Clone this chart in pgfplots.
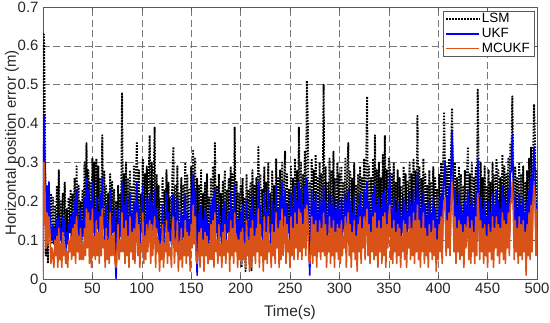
\documentclass[border=0pt]{standalone}
\usepackage{fontspec}
\setmainfont{Liberation Sans}
\usepackage{pgfplots}
\usepackage{pgfplotstable}
\pgfplotsset{compat=1.18}
\definecolor{lsm}{RGB}{0,0,0}
\definecolor{ukf}{RGB}{0,0,255}
\definecolor{mcukf}{RGB}{217,83,25}
\definecolor{gridc}{RGB}{120,120,120}
\definecolor{axc}{RGB}{90,90,90}
\pgfplotstableread[row sep=\\]{
l u m\\
2 5 0\\ 63 42 30\\ 38 30 22\\ 6 14 8\\ 22 24 17\\ 4 12 9\\ 20 25 16\\ 12 17 12\\ 22 12 4\\ 9 10 8\\
21 14 6\\ 11 9 3\\ 19 13 10\\ 8 11 6\\ 24 15 11\\ 10 8 3\\ 28 16 13\\ 11 10 5\\ 20 13 9\\ 9 9 3\\
22 16 12\\ 11 12 6\\ 25 15 9\\ 8 7 4\\ 18 12 7\\ 10 9 3\\ 21 14 10\\ 12 13 7\\ 23 16 11\\ 9 10 5\\
22 17 13\\ 14 11 6\\ 26 20 14\\ 12 9 4\\ 29 23 16\\ 13 12 7\\ 24 15 11\\ 10 8 5\\ 20 18 13\\ 8 10 5\\
23 15 9\\ 12 11 5\\ 30 21 13\\ 14 10 6\\ 35 26 18\\ 15 14 8\\ 28 23 17\\ 11 9 4\\ 25 20 15\\ 10 9 3\\
31 25 18\\ 13 12 6\\ 30 18 11\\ 9 8 5\\ 31 21 15\\ 14 13 6\\ 29 17 12\\ 7 9 4\\ 26 22 16\\ 11 10 6\\
37 26 18\\ 15 13 8\\ 28 16 10\\ 10 8 3\\ 24 19 13\\ 6 11 5\\ 22 14 10\\ 13 10 4\\ 27 23 17\\ 8 9 6\\
25 16 11\\ 12 12 6\\ 23 18 12\\ 9 7 4\\ 20 0 3\\ 11 12 8\\ 24 18 14\\ 6 10 5\\ 22 15 10\\ 13 11 7\\
48 25 17\\ 14 12 7\\ 27 19 13\\ 10 9 4\\ 30 21 15\\ 12 11 6\\ 26 16 11\\ 7 8 3\\ 28 22 16\\ 11 12 7\\
24 17 12\\ 9 10 5\\ 29 20 13\\ 12 9 4\\ 26 18 12\\ 35 25 17\\ 10 11 6\\ 28 19 14\\ 6 9 3\\ 22 14 9\\
13 12 7\\ 31 24 17\\ 11 10 4\\ 27 15 11\\ 8 9 5\\ 29 21 14\\ 14 12 7\\ 26 17 12\\ 37 22 15\\ 10 9 4\\
30 20 14\\ 12 11 6\\ 25 16 12\\ 39 23 16\\ 9 8 3\\ 27 18 13\\ 13 12 7\\ 24 15 10\\ 7 7 2\\ 21 13 9\\
11 10 5\\ 26 19 14\\ 9 8 3\\ 23 14 9\\ 14 12 7\\ 28 22 15\\ 8 9 4\\ 25 17 12\\ 12 10 6\\ 21 13 8\\
10 9 3\\ 27 20 14\\ 34 22 16\\ 8 8 4\\ 24 15 10\\ 13 11 7\\ 29 21 15\\ 9 8 2\\ 22 14 9\\ 12 10 5\\
26 18 13\\ 7 7 3\\ 24 16 10\\ 13 11 6\\ 30 22 15\\ 10 9 4\\ 27 17 12\\ 11 10 6\\ 23 15 11\\ 8 8 2\\
29 21 14\\ 14 12 8\\ 33 27 19\\ 12 14 9\\ 31 23 16\\ 9 10 5\\ 26 1 4\\ 11 12 7\\ 24 17 12\\ 8 9 3\\
28 19 13\\ 12 10 6\\ 22 15 10\\ 7 7 2\\ 25 18 12\\ 10 11 6\\ 27 16 11\\ 13 9 4\\ 21 14 9\\ 9 10 5\\
26 19 14\\ 11 10 5\\ 29 21 15\\ 8 8 3\\ 35 23 17\\ 12 12 7\\ 24 15 10\\ 9 9 4\\ 27 19 14\\ 13 11 6\\
22 14 9\\ 7 8 3\\ 25 18 12\\ 11 10 6\\ 28 20 14\\ 9 9 4\\ 23 15 10\\ 14 12 7\\ 26 17 12\\ 8 7 2\\
29 22 15\\ 12 11 6\\ 27 18 13\\ 10 9 4\\ 39 24 17\\ 13 12 7\\ 25 16 11\\ 9 8 3\\ 22 15 10\\ 11 10 5\\
24 17 12\\ 3 8 4\\ 26 19 13\\ 10 10 5\\ 21 14 9\\ 2 7 3\\ 27 20 15\\ 12 11 6\\ 23 15 10\\ 4 8 2\\
25 18 13\\ 2 7 3\\ 28 21 15\\ 11 10 6\\ 24 16 11\\ 9 9 4\\ 26 18 13\\ 13 12 7\\ 34 25 18\\ 8 8 3\\
27 19 14\\ 12 11 6\\ 23 15 10\\ 7 7 2\\ 29 22 16\\ 11 10 5\\ 25 17 12\\ 9 9 4\\ 30 23 16\\ 13 12 7\\
22 14 9\\ 8 8 3\\ 28 20 14\\ 12 11 6\\ 24 17 12\\ 10 9 4\\ 31 24 17\\ 14 13 8\\ 26 18 13\\ 9 8 3\\
28 21 15\\ 12 10 5\\ 30 25 18\\ 11 11 6\\ 24 16 11\\ 33 23 16\\ 9 9 4\\ 27 19 14\\ 13 12 7\\ 23 15 10\\
8 8 3\\ 29 22 16\\ 12 11 6\\ 26 18 13\\ 10 10 5\\ 31 24 17\\ 14 12 8\\ 28 20 14\\ 11 10 5\\ 39 25 18\\
13 12 7\\ 30 23 17\\ 11 10 5\\ 27 19 14\\ 15 13 8\\ 33 24 18\\ 12 11 6\\ 51 26 19\\ 41 22 16\\ 10 10 5\\
25 1 4\\ 13 12 7\\ 31 23 16\\ 9 9 4\\ 28 20 14\\ 12 11 6\\ 32 22 15\\ 10 9 3\\ 26 17 12\\ 14 12 7\\
30 21 15\\ 11 10 5\\ 27 19 13\\ 13 12 7\\ 50 24 17\\ 12 11 6\\ 29 20 14\\ 9 8 3\\ 25 16 11\\ 14 12 7\\
31 22 16\\ 10 9 4\\ 28 19 13\\ 12 11 6\\ 33 21 15\\ 8 8 3\\ 26 18 12\\ 13 12 7\\ 30 20 14\\ 11 10 5\\
27 18 13\\ 9 9 4\\ 29 21 15\\ 12 11 6\\ 25 16 11\\ 14 13 8\\ 31 22 16\\ 10 9 3\\ 27 19 13\\ 35 23 17\\
12 11 6\\ 28 20 14\\ 9 8 3\\ 26 17 12\\ 13 12 7\\ 30 21 15\\ 11 10 5\\ 24 16 11\\ 8 8 2\\ 27 19 14\\
13 12 7\\ 29 22 16\\ 10 9 4\\ 26 18 13\\ 14 13 8\\ 31 23 16\\ 11 10 5\\ 28 21 15\\ 47 25 18\\ 12 11 6\\
29 20 14\\ 9 9 4\\ 26 17 12\\ 13 12 7\\ 31 22 16\\ 10 10 5\\ 37 24 17\\ 12 11 6\\ 28 19 13\\ 8 8 3\\
30 21 15\\ 13 12 7\\ 26 18 13\\ 10 9 4\\ 32 22 16\\ 12 11 6\\ 37 23 17\\ 9 8 3\\ 28 19 14\\ 14 13 8\\
31 22 16\\ 29 27 19\\ 11 10 5\\ 27 18 13\\ 9 9 4\\ 30 21 15\\ 13 12 7\\ 25 17 12\\ 10 9 4\\ 28 20 14\\
12 11 6\\ 26 18 13\\ 8 8 3\\ 24 16 11\\ 13 12 7\\ 29 21 15\\ 11 10 5\\ 27 19 14\\ 9 9 3\\ 25 17 12\\
14 13 8\\ 30 22 16\\ 10 10 5\\ 27 19 13\\ 12 11 6\\ 31 23 17\\ 9 9 4\\ 28 20 15\\ 13 12 7\\ 42 27 19\\
11 10 5\\ 29 21 15\\ 8 8 3\\ 26 18 13\\ 13 12 7\\ 31 23 17\\ 10 9 4\\ 27 19 13\\ 12 11 6\\ 24 16 11\\
9 8 3\\ 28 20 14\\ 13 12 7\\ 25 17 12\\ 10 10 5\\ 29 21 15\\ 12 11 6\\ 26 18 13\\ 8 8 2\\ 23 15 10\\
11 10 5\\ 27 19 14\\ 13 12 7\\ 30 22 16\\ 10 9 4\\ 28 23 17\\ 43 27 20\\ 26 30 21\\ 12 11 6\\ 29 21 15\\
14 13 8\\ 31 24 17\\ 11 11 6\\ 33 28 19\\ 44 38 25\\ 27 29 20\\ 12 12 7\\ 30 23 16\\ 9 9 4\\ 26 19 13\\
13 12 7\\ 29 22 15\\ 10 10 5\\ 27 19 14\\ 12 11 6\\ 24 17 12\\ 8 8 3\\ 28 20 14\\ 14 13 8\\ 25 18 12\\
34 23 16\\ 11 10 5\\ 27 19 13\\ 9 9 4\\ 30 21 15\\ 13 12 7\\ 26 18 12\\ 10 9 4\\ 29 22 16\\ 12 11 6\\
49 31 22\\ 28 24 17\\ 11 10 5\\ 30 21 15\\ 13 12 7\\ 26 18 13\\ 9 9 4\\ 29 20 14\\ 12 11 6\\ 24 16 11\\
10 9 3\\ 28 20 14\\ 13 12 7\\ 25 17 12\\ 11 10 5\\ 30 22 16\\ 8 8 3\\ 27 19 13\\ 14 13 8\\ 31 23 16\\
12 11 6\\ 28 20 14\\ 9 9 4\\ 26 18 13\\ 13 12 7\\ 32 24 17\\ 11 10 5\\ 29 21 15\\ 10 9 4\\ 27 19 14\\
14 13 8\\ 31 23 17\\ 12 11 6\\ 35 27 19\\ 30 28 20\\ 47 37 25\\ 28 26 18\\ 11 10 5\\ 29 21 15\\ 13 12 7\\
26 18 13\\ 9 9 4\\ 30 22 16\\ 12 11 6\\ 27 19 14\\ 10 10 5\\ 29 21 15\\ 13 12 7\\ 25 17 12\\ 8 8 1\\
28 20 14\\ 12 11 6\\ 31 23 17\\ 10 10 5\\ 34 26 19\\ 13 12 7\\ 30 27 20\\ 45 34 24\\ 35 28 21\\ 12 11 6\\
28 19 18\\
}\errdata
\begin{document}
\begin{tikzpicture}
\begin{axis}[
  scale only axis,
  width=494bp, height=272bp,
  xmin=0, xmax=500, ymin=0, ymax=0.7,
  xtick={0,50,100,150,200,250,300,350,400,450,500},
  ytick={0,0.1,0.2,0.3,0.4,0.5,0.6,0.7},
  yticklabels={0,0.1,0.2,0.3,0.4,0.5,0.6,0.7},
  /pgf/number format/assume math mode=true,
  tick align=inside,
  major tick length=4bp,
  tick style={axc, line width=0.5pt},
  axis line style={axc, line width=0.6pt},
  grid=major,
  major grid style={gridc, line width=0.6pt, dash pattern=on 7bp off 3.5bp},
  xticklabel style={font=\fontsize{15}{17}\selectfont, text=black!85, yshift=-1bp},
  yticklabel style={font=\fontsize{15}{17}\selectfont, text=black!85, xshift=-1bp},
  xlabel={Time(s)},
  ylabel={Horizontal position error (m)},
  xlabel style={font=\fontsize{15.5}{17}\selectfont, text=black!85, at={(axis description cs:0.5,0)}, anchor=center, yshift=-34bp},
  ylabel style={font=\fontsize{15}{17}\selectfont, text=black!85, at={(axis description cs:0,0.5)}, anchor=center, yshift=31bp},
  legend style={at={(rel axis cs:0.994,0.986)}, anchor=north east,
    draw=axc, line width=0.5pt, fill=white,
    font=\fontsize{13.5}{15}\selectfont, inner xsep=2bp, inner ysep=0.5bp,
    cells={anchor=west}},
  legend image code/.code={\draw[#1] (0bp,0bp) -- (33bp,0bp);},
  every axis plot/.append style={line join=round},
]
\addplot[lsm, line width=1.9pt, dash pattern=on 1.6pt off 1.4pt] table[x expr=\coordindex, y expr=\thisrow{l}/100] {\errdata};
\addlegendentry{LSM}
\addplot[ukf, line width=1.6pt] table[x expr=\coordindex, y expr=\thisrow{u}/100] {\errdata};
\addlegendentry{UKF}
\addplot[mcukf, line width=1.6pt] table[x expr=\coordindex, y expr=\thisrow{m}/100] {\errdata};
\addlegendentry{MCUKF}
\end{axis}
\pgfresetboundingbox
\path[use as bounding box] ([xshift=-43bp,yshift=-44bp]current axis.south west) rectangle ([xshift=13bp,yshift=7bp]current axis.north east);
\end{tikzpicture}
\end{document}
